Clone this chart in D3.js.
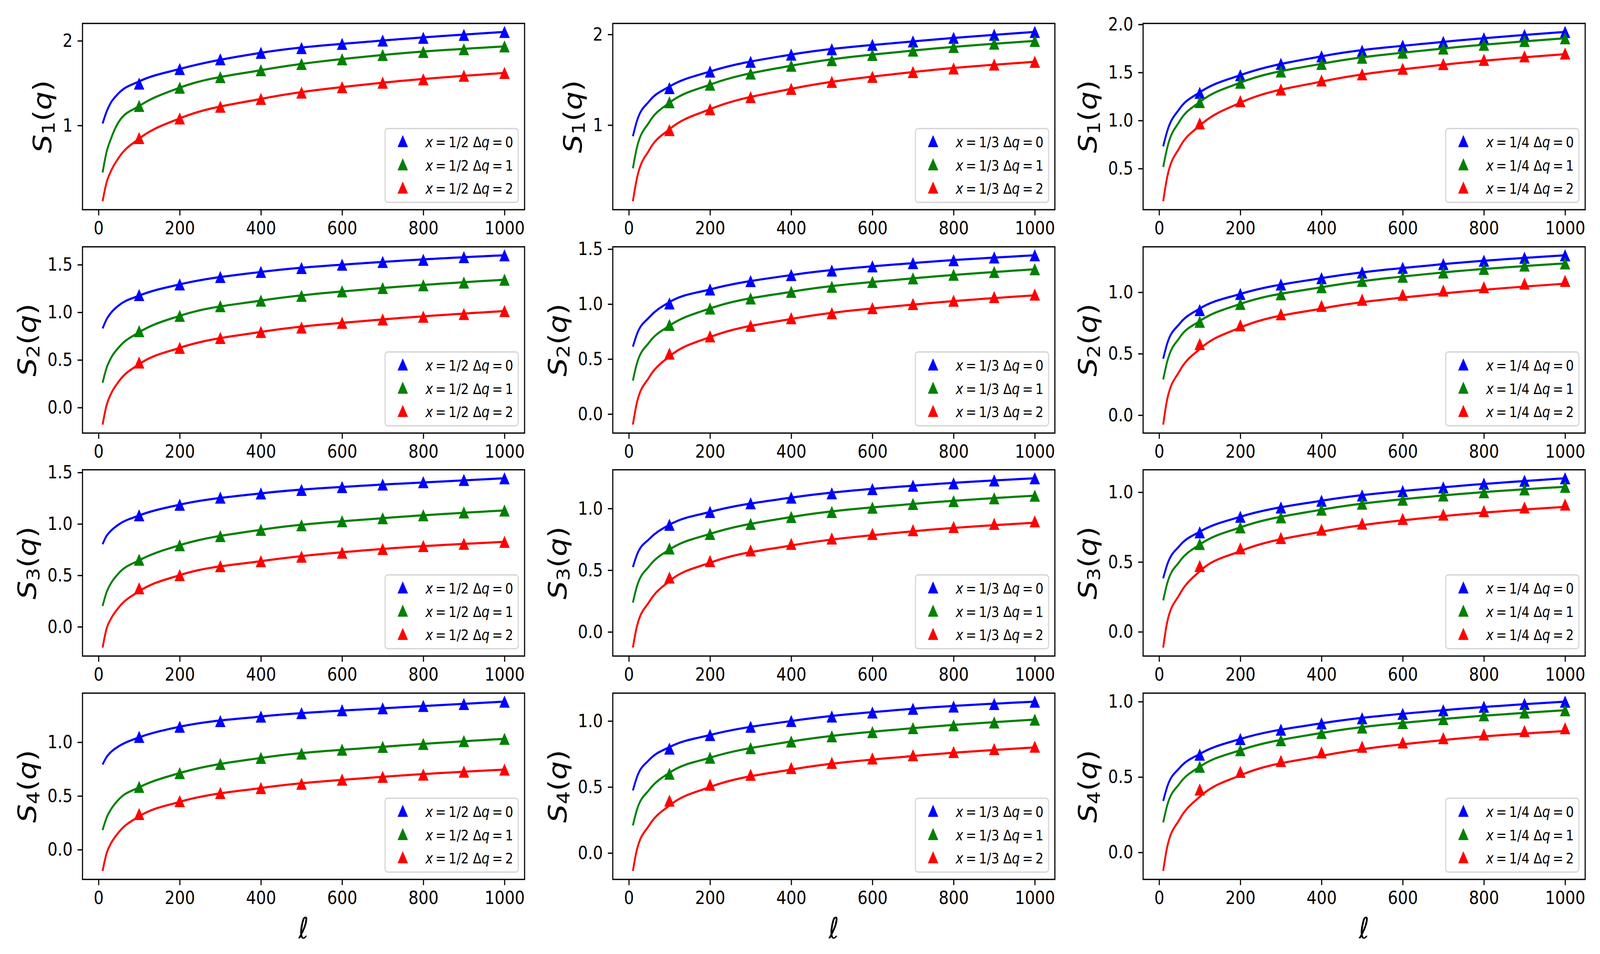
<!DOCTYPE html>
<html>
<head>
<meta charset="utf-8">
<script src="https://cdn.jsdelivr.net/npm/d3@7"></script>
<style>
  html, body { margin: 0; padding: 0; background: #fff; overflow: hidden; }
  #chart { display: block; width: 100vw; height: 100vh; }
  text { font-family: "DejaVu Sans", sans-serif; }
</style>
</head>
<body>
<svg id="chart"></svg>
<script>
// Sample positions (l) of the data points and of the fitted curves
const markerL = [100, 200, 300, 400, 500, 600, 700, 800, 900, 1000];
const fitLHalf = [10, 20, 30, 50, 100, 200, 400, 700, 1000];   // x = 1/2 curves
const fitLOther = [10, 20, 50, 100, 200, 400, 700, 1000];      // x = 1/3, 1/4 curves
const xTicks = [0, 200, 400, 600, 800, 1000];

const xFractions = ["1/2", "1/3", "1/4"];
const deltaQ = [0, 1, 2];
const seriesColors = ["#0000ff", "#008000", "#ff0000"];

// y tick labels per row (S_1..S_4), per column (x = 1/2, 1/3, 1/4)
const yTicksS1 = [[1, 2], [1, 2], [0.5, 1.0, 1.5, 2.0]];
const yTicksS2 = [[0, 0.5, 1.0, 1.5], [0, 0.5, 1.0, 1.5], [0, 0.5, 1.0]];
const yTicksS3 = [[0, 0.5, 1.0, 1.5], [0, 0.5, 1.0], [0, 0.5, 1.0]];
const yTicksS4 = [[0, 0.5, 1.0], [0, 0.5, 1.0], [0, 0.5, 1.0]];

// ---- x = 1/2 ----  (rows: Δq = 0, 1, 2)
const s1HalfMarkers = [
  [1.495, 1.667, 1.782, 1.858, 1.914, 1.964, 2.003, 2.036, 2.070, 2.105],
  [1.231, 1.446, 1.571, 1.653, 1.726, 1.782, 1.832, 1.868, 1.901, 1.934],
  [0.851, 1.083, 1.221, 1.314, 1.389, 1.452, 1.505, 1.545, 1.587, 1.620]];
const s1HalfFit = [
  [1.023, 1.165, 1.265, 1.383, 1.520, 1.667, 1.858, 2.003, 2.105],
  [0.444, 0.690, 0.835, 1.044, 1.229, 1.446, 1.653, 1.832, 1.934],
  [0.105, 0.330, 0.455, 0.621, 0.844, 1.083, 1.314, 1.505, 1.620]];

const s2HalfMarkers = [
  [1.182, 1.293, 1.371, 1.424, 1.465, 1.500, 1.529, 1.552, 1.579, 1.599],
  [0.802, 0.963, 1.065, 1.123, 1.173, 1.220, 1.255, 1.284, 1.313, 1.342],
  [0.473, 0.627, 0.730, 0.794, 0.840, 0.890, 0.925, 0.954, 0.983, 1.013]];
const s2HalfFit = [
  [0.831, 0.928, 0.991, 1.073, 1.175, 1.293, 1.424, 1.529, 1.599],
  [0.261, 0.418, 0.515, 0.633, 0.790, 0.963, 1.123, 1.255, 1.342],
  [-0.179, 0.028, 0.138, 0.275, 0.455, 0.627, 0.794, 0.925, 1.013]];

const s3HalfMarkers = [
  [1.084, 1.187, 1.256, 1.297, 1.331, 1.358, 1.383, 1.406, 1.428, 1.444],
  [0.652, 0.793, 0.882, 0.943, 0.987, 1.026, 1.056, 1.084, 1.112, 1.131],
  [0.374, 0.502, 0.590, 0.638, 0.682, 0.721, 0.757, 0.785, 0.807, 0.826]];
const s3HalfFit = [
  [0.803, 0.885, 0.931, 0.995, 1.082, 1.187, 1.297, 1.383, 1.444],
  [0.202, 0.338, 0.419, 0.522, 0.646, 0.793, 0.943, 1.056, 1.131],
  [-0.202, -0.015, 0.074, 0.189, 0.345, 0.502, 0.638, 0.757, 0.826]];

const s4HalfMarkers = [
  [1.050, 1.144, 1.197, 1.239, 1.271, 1.298, 1.316, 1.338, 1.356, 1.378],
  [0.585, 0.713, 0.798, 0.854, 0.894, 0.931, 0.957, 0.984, 1.011, 1.032],
  [0.332, 0.452, 0.527, 0.574, 0.614, 0.652, 0.678, 0.699, 0.726, 0.745]];
const s4HalfFit = [
  [0.793, 0.863, 0.907, 0.963, 1.045, 1.144, 1.239, 1.316, 1.378],
  [0.183, 0.298, 0.371, 0.468, 0.580, 0.713, 0.854, 0.957, 1.032],
  [-0.198, -0.032, 0.054, 0.163, 0.310, 0.445, 0.574, 0.678, 0.745]];

// ---- x = 1/3 ----
const s1ThirdMarkers = [
  [1.409, 1.591, 1.698, 1.778, 1.837, 1.886, 1.923, 1.963, 1.997, 2.028],
  [1.252, 1.446, 1.569, 1.655, 1.717, 1.775, 1.822, 1.862, 1.898, 1.929],
  [0.945, 1.175, 1.308, 1.400, 1.477, 1.532, 1.585, 1.625, 1.668, 1.698]];
const s1ThirdFit = [
  [0.877, 1.046, 1.262, 1.425, 1.591, 1.778, 1.923, 2.028],
  [0.523, 0.754, 1.031, 1.246, 1.446, 1.655, 1.822, 1.929],
  [0.160, 0.415, 0.723, 0.954, 1.175, 1.400, 1.585, 1.698]];

const s2ThirdMarkers = [
  [1.006, 1.133, 1.209, 1.264, 1.305, 1.343, 1.373, 1.399, 1.424, 1.444],
  [0.811, 0.960, 1.051, 1.112, 1.158, 1.201, 1.234, 1.267, 1.292, 1.317],
  [0.550, 0.707, 0.803, 0.872, 0.917, 0.963, 1.001, 1.031, 1.064, 1.087]];
const s2ThirdFit = [
  [0.613, 0.727, 0.879, 1.018, 1.133, 1.264, 1.373, 1.444],
  [0.304, 0.461, 0.651, 0.803, 0.960, 1.112, 1.234, 1.317],
  [-0.096, 0.106, 0.334, 0.524, 0.700, 0.865, 0.995, 1.080]];

const s3ThirdMarkers = [
  [0.868, 0.972, 1.042, 1.088, 1.123, 1.157, 1.185, 1.204, 1.227, 1.245],
  [0.676, 0.794, 0.875, 0.931, 0.972, 1.007, 1.037, 1.060, 1.083, 1.104],
  [0.440, 0.574, 0.660, 0.713, 0.757, 0.794, 0.824, 0.850, 0.875, 0.896]];
const s3ThirdFit = [
  [0.525, 0.625, 0.752, 0.868, 0.972, 1.088, 1.185, 1.245],
  [0.238, 0.370, 0.532, 0.667, 0.794, 0.931, 1.037, 1.104],
  [-0.127, 0.046, 0.243, 0.412, 0.560, 0.700, 0.815, 0.885]];

const s4ThirdMarkers = [
  [0.791, 0.894, 0.957, 1.000, 1.034, 1.065, 1.093, 1.110, 1.129, 1.147],
  [0.601, 0.722, 0.795, 0.845, 0.884, 0.916, 0.946, 0.968, 0.989, 1.011],
  [0.397, 0.517, 0.593, 0.644, 0.683, 0.716, 0.741, 0.765, 0.787, 0.806]];
const s4ThirdFit = [
  [0.474, 0.575, 0.705, 0.802, 0.894, 1.000, 1.093, 1.147],
  [0.209, 0.328, 0.478, 0.608, 0.722, 0.845, 0.946, 1.011],
  [-0.136, 0.026, 0.209, 0.360, 0.500, 0.632, 0.735, 0.800]];

// ---- x = 1/4 ----
const s1QuarterMarkers = [
  [1.288, 1.472, 1.590, 1.668, 1.726, 1.778, 1.818, 1.856, 1.890, 1.922],
  [1.192, 1.394, 1.510, 1.590, 1.654, 1.706, 1.749, 1.789, 1.827, 1.856],
  [0.970, 1.201, 1.322, 1.417, 1.481, 1.539, 1.588, 1.631, 1.668, 1.697]];
const s1QuarterFit = [
  [0.731, 0.890, 1.120, 1.293, 1.472, 1.668, 1.818, 1.922],
  [0.515, 0.717, 0.990, 1.192, 1.394, 1.590, 1.749, 1.856],
  [0.160, 0.414, 0.716, 0.947, 1.185, 1.405, 1.580, 1.690]];

const s2QuarterMarkers = [
  [0.855, 0.986, 1.063, 1.115, 1.161, 1.199, 1.229, 1.256, 1.281, 1.301],
  [0.760, 0.905, 0.984, 1.041, 1.093, 1.127, 1.161, 1.190, 1.217, 1.235],
  [0.579, 0.731, 0.821, 0.889, 0.939, 0.980, 1.014, 1.041, 1.070, 1.093]];
const s2QuarterFit = [
  [0.459, 0.584, 0.742, 0.867, 0.986, 1.115, 1.229, 1.301],
  [0.290, 0.437, 0.629, 0.765, 0.905, 1.041, 1.161, 1.235],
  [-0.077, 0.131, 0.357, 0.538, 0.713, 0.867, 0.990, 1.070]];

const s3QuarterMarkers = [
  [0.713, 0.824, 0.891, 0.939, 0.977, 1.008, 1.035, 1.061, 1.082, 1.100],
  [0.629, 0.748, 0.820, 0.875, 0.918, 0.947, 0.977, 1.000, 1.020, 1.039],
  [0.471, 0.598, 0.672, 0.732, 0.775, 0.809, 0.840, 0.865, 0.891, 0.912]];
const s3QuarterFit = [
  [0.383, 0.482, 0.615, 0.717, 0.824, 0.939, 1.035, 1.100],
  [0.225, 0.348, 0.502, 0.625, 0.748, 0.875, 0.977, 1.039],
  [-0.113, 0.072, 0.266, 0.434, 0.578, 0.717, 0.828, 0.895]];

const s4QuarterMarkers = [
  [0.648, 0.752, 0.814, 0.856, 0.890, 0.919, 0.943, 0.966, 0.985, 1.000],
  [0.568, 0.678, 0.744, 0.792, 0.828, 0.858, 0.884, 0.909, 0.928, 0.943],
  [0.417, 0.534, 0.606, 0.663, 0.701, 0.729, 0.758, 0.782, 0.805, 0.824]];
const s4QuarterFit = [
  [0.341, 0.436, 0.559, 0.653, 0.752, 0.856, 0.943, 1.000],
  [0.199, 0.313, 0.455, 0.568, 0.678, 0.792, 0.884, 0.943],
  [-0.123, 0.038, 0.218, 0.369, 0.511, 0.640, 0.745, 0.805]];

// Panels in grid order: row = S_n, column = x
const panels = [
  {row: 0, col: 0, markers: s1HalfMarkers,    fit: s1HalfFit,    fitL: fitLHalf,  ticks: yTicksS1[0]},
  {row: 0, col: 1, markers: s1ThirdMarkers,   fit: s1ThirdFit,   fitL: fitLOther, ticks: yTicksS1[1]},
  {row: 0, col: 2, markers: s1QuarterMarkers, fit: s1QuarterFit, fitL: fitLOther, ticks: yTicksS1[2]},
  {row: 1, col: 0, markers: s2HalfMarkers,    fit: s2HalfFit,    fitL: fitLHalf,  ticks: yTicksS2[0]},
  {row: 1, col: 1, markers: s2ThirdMarkers,   fit: s2ThirdFit,   fitL: fitLOther, ticks: yTicksS2[1]},
  {row: 1, col: 2, markers: s2QuarterMarkers, fit: s2QuarterFit, fitL: fitLOther, ticks: yTicksS2[2]},
  {row: 2, col: 0, markers: s3HalfMarkers,    fit: s3HalfFit,    fitL: fitLHalf,  ticks: yTicksS3[0]},
  {row: 2, col: 1, markers: s3ThirdMarkers,   fit: s3ThirdFit,   fitL: fitLOther, ticks: yTicksS3[1]},
  {row: 2, col: 2, markers: s3QuarterMarkers, fit: s3QuarterFit, fitL: fitLOther, ticks: yTicksS3[2]},
  {row: 3, col: 0, markers: s4HalfMarkers,    fit: s4HalfFit,    fitL: fitLHalf,  ticks: yTicksS4[0]},
  {row: 3, col: 1, markers: s4ThirdMarkers,   fit: s4ThirdFit,   fitL: fitLOther, ticks: yTicksS4[1]},
  {row: 3, col: 2, markers: s4QuarterMarkers, fit: s4QuarterFit, fitL: fitLOther, ticks: yTicksS4[2]}
];

// Layout (pixels, in a 4752 x 2443 viewBox stretched over the window)
const W = 4752, H = 2443;
const colLeft = [245, 1820, 3395];
const rowTop = [60, 632, 1203, 1775];
const axW = 1313, axH = 477;
const tickFont = 47, labelFont = 75, legendFont = 37.5;
const tickLen = 14.6, tickPad = 14.6, spineW = 3.3;
const markerSize = 31, lineW = 5.5;

// matplotlib-like 5% autoscale margins
function pad([lo, hi]) {
  const m = (hi - lo) * 0.05;
  return [lo - m, hi + m];
}

const svg = d3.select("#chart")
  .attr("viewBox", `0 0 ${W} ${H}`)
  .attr("preserveAspectRatio", "none");
svg.append("rect").attr("width", W).attr("height", H).attr("fill", "#fff");

const x = d3.scaleLinear()
  .domain(pad(d3.extent(fitLHalf.concat(fitLOther, markerL))))
  .range([0, axW]);

const triangle = `M0,${-markerSize / 2}L${markerSize / 2},${markerSize / 2}L${-markerSize / 2},${markerSize / 2}Z`;

panels.forEach(p => {
  const g = svg.append("g")
    .attr("transform", `translate(${colLeft[p.col]}, ${rowTop[p.row]})`);

  const allValues = p.markers.flat().concat(p.fit.flat());
  const y = d3.scaleLinear().domain(pad(d3.extent(allValues))).range([axH, 0]);

  // X axis
  const xAxis = g.append("g")
    .attr("transform", `translate(0, ${axH})`)
    .call(d3.axisBottom(x).tickValues(xTicks).tickFormat(d3.format("d"))
      .tickSize(tickLen).tickPadding(tickPad).tickSizeOuter(0));

  // Y axis (integer labels in the top-left two panels)
  const fmt = (p.row === 0 && p.col < 2) ? d3.format("d") : d3.format(".1f");
  const yAxis = g.append("g")
    .call(d3.axisLeft(y).tickValues(p.ticks).tickFormat(fmt)
      .tickSize(tickLen).tickPadding(tickPad).tickSizeOuter(0));

  [xAxis, yAxis].forEach(a => {
    a.attr("font-size", tickFont).attr("font-family", "DejaVu Sans");
    a.select(".domain").remove();
    a.selectAll(".tick line").attr("stroke", "#000").attr("stroke-width", spineW);
    a.selectAll(".tick text").attr("fill", "#000");
  });

  // Fitted curves + data markers
  const line = d3.line()
    .x((d, i) => x(p.fitL[i]))
    .y(d => y(d))
    .curve(d3.curveMonotoneX);

  deltaQ.forEach((dq, s) => {
    g.append("path")
      .datum(p.fit[s])
      .attr("fill", "none")
      .attr("stroke", seriesColors[s])
      .attr("stroke-width", lineW)
      .attr("d", line);

    g.selectAll(`.tri${s}`)
      .data(p.markers[s])
      .enter()
      .append("path")
      .attr("class", `tri${s}`)
      .attr("d", triangle)
      .attr("transform", (d, i) => `translate(${x(markerL[i])}, ${y(d)})`)
      .attr("fill", seriesColors[s]);
  });

  // Spines
  g.append("rect")
    .attr("width", axW)
    .attr("height", axH)
    .attr("fill", "none")
    .attr("stroke", "#000")
    .attr("stroke-width", spineW);

  // Legend (lower right); thin spaces around "=" like mathtext
  const legH = 189, rowPitch = 59.5, firstRow = 32;
  const legend = g.append("g");
  let textW = 0;
  deltaQ.forEach((dq, s) => {
    const cy = firstRow + s * rowPitch;
    legend.append("path")
      .attr("d", triangle)
      .attr("transform", `translate(52.5, ${cy})`)
      .attr("fill", seriesColors[s]);

    const t = legend.append("text")
      .attr("x", 120)
      .attr("y", cy + 16)
      .attr("font-size", legendFont);
    t.append("tspan").attr("font-style", "italic").text("x");
    t.append("tspan").text(`\u2009=\u2009${xFractions[p.col]} Δ`);
    t.append("tspan").attr("font-style", "italic").text("q");
    t.append("tspan").text(`\u2009=\u2009${dq}`);
    textW = Math.max(textW, t.node().getComputedTextLength());
  });
  const legW = 120 + textW + 15;
  legend.insert("rect", ":first-child")
    .attr("width", legW)
    .attr("height", legH)
    .attr("rx", 8)
    .attr("fill", "#fff")
    .attr("fill-opacity", 0.8)
    .attr("stroke", "#d6d6d6")
    .attr("stroke-width", spineW);
  legend.attr("transform", `translate(${axW - 18.75 - legW}, ${axH - 18.75 - legH})`);

  // Y label S_n(q), placed left of the tick labels
  const tickBox = yAxis.node().getBBox();
  const yl = g.append("text")
    .attr("transform", `translate(${tickBox.x - 34}, ${axH / 2}) rotate(-90)`)
    .attr("text-anchor", "middle")
    .attr("font-size", labelFont);
  yl.append("tspan").attr("font-style", "italic").text("S");
  yl.append("tspan").attr("font-size", labelFont * 0.7).attr("dy", 10).text(p.row + 1);
  yl.append("tspan").attr("dy", -10).text("(");
  yl.append("tspan").attr("font-style", "italic").text("q");
  yl.append("tspan").text(")");

  // X label only on the bottom row
  if (p.row === 3) {
    g.append("text")
      .attr("x", axW / 2)
      .attr("y", 628)
      .attr("text-anchor", "middle")
      .attr("font-size", labelFont)
      .attr("font-style", "italic")
      .text("ℓ");
  }
});
</script>
</body>
</html>
